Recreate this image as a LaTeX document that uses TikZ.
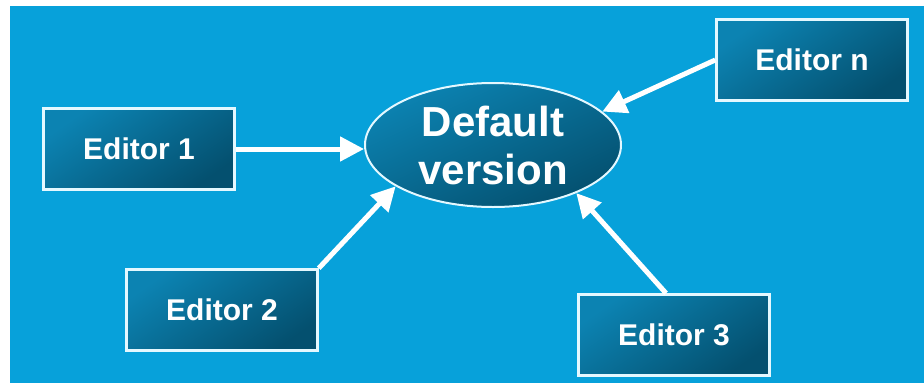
\documentclass[tikz,border=0pt]{standalone}
\usepackage{fontspec}
\setmainfont{Liberation Sans}
\usetikzlibrary{shapes.geometric,arrows.meta}
\definecolor{bgblue}{HTML}{07A1DA}
\definecolor{boxlight}{HTML}{0C83B2}
\definecolor{boxdark}{HTML}{04506F}
\definecolor{rimcol}{HTML}{E4F8FF}
\tikzset{
  editorbox/.style={rectangle, draw=rimcol, line width=2.5pt,
    top color=boxlight, bottom color=boxdark, shading angle=35,
    minimum width=191pt, minimum height=81pt, inner sep=0pt,
    text=white, font=\fontsize{30}{34}\selectfont\bfseries},
  mainell/.style={ellipse, draw=rimcol, line width=2pt,
    top color=boxlight, bottom color=boxdark, shading angle=25,
    minimum width=256pt, minimum height=124pt, inner sep=0pt,
    text=white, align=center, font=\fontsize{42}{48}\selectfont\bfseries},
  feed/.style={draw=white, line width=5pt,
    -{Triangle[length=24pt,width=24pt]}}
}
\begin{document}
\begin{tikzpicture}[x=1pt,y=-1pt]
\useasboundingbox (0,0) rectangle (924,383);
\fill[white] (0,0) rectangle (924,383);
\fill[bgblue] (10,6) rectangle (924,383);
\node[mainell] (ell) at (493,145) {Default\\version};
\node[editorbox] (e1) at (139,149) {Editor 1};
\node[editorbox] (en) at (812,60) {Editor n};
\node[editorbox] (e2) at (222,310) {Editor 2};
\node[editorbox] (e3) at (674,335) {Editor 3};
\draw[feed] (e1.east) -- (e1.east -| ell.west);
\draw[feed] (en.west) -- (ell.17);
\draw[feed] (e2.north east) -- (ell.-157);
\draw[feed] ([xshift=-8pt]e3.north) -- (ell.-30);
\end{tikzpicture}
\end{document}
